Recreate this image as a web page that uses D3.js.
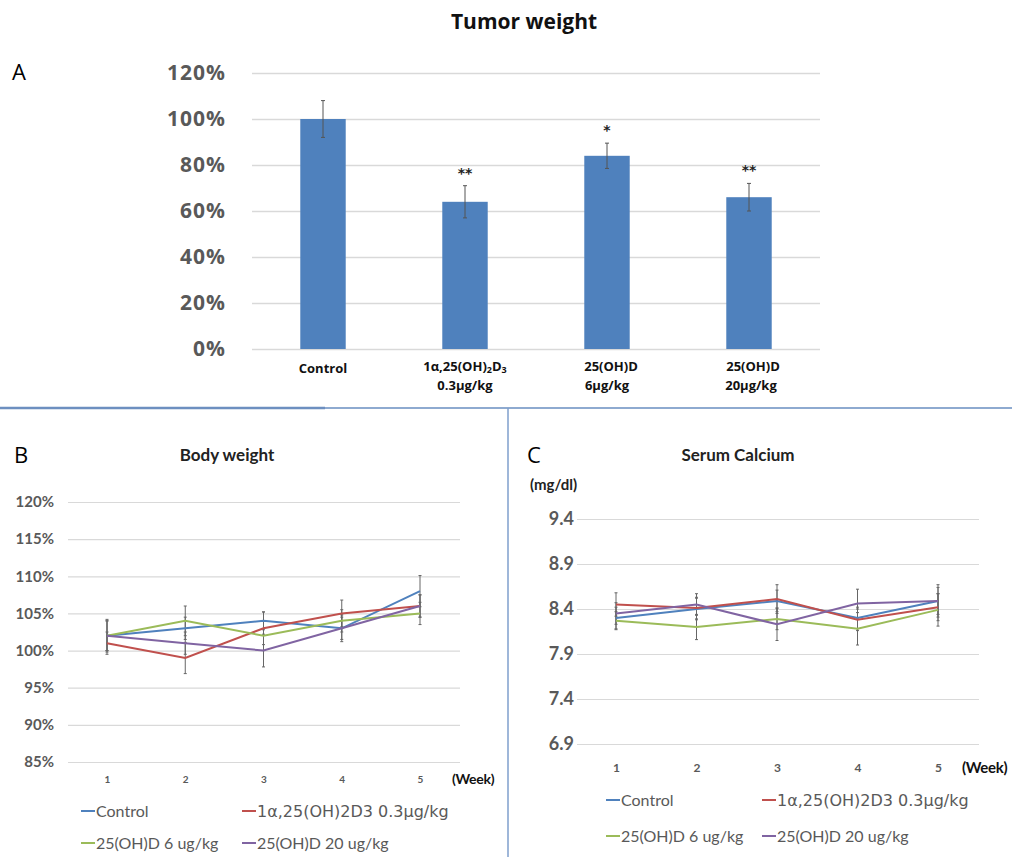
<!DOCTYPE html>
<html>
<head>
<meta charset="utf-8">
<script src="https://cdn.jsdelivr.net/npm/d3@7"></script>
<style>
  html, body { margin: 0; padding: 0; background: #fff; }
  svg { display: block; }
</style>
</head>
<body>
<svg id="chart" width="1012" height="857"></svg>
<script>
// ---------- DATA ----------
const tumorCategories = ["Control", "1α,25(OH)2D3 0.3μg/kg", "25(OH)D 6μg/kg", "25(OH)D 20μg/kg"];
const tumorValues = [1.00, 0.64, 0.84, 0.66];
const tumorErrors = [0.08, 0.07, 0.055, 0.06];
const tumorStars = ["", "**", "*", "**"];
const tumorTicks = [0, 0.2, 0.4, 0.6, 0.8, 1.0, 1.2];

const weeks = [1, 2, 3, 4, 5];
const seriesNames = ["Control", "1α,25(OH)2D3 0.3μg/kg", "25(OH)D 6 ug/kg", "25(OH)D 20 ug/kg"];
const seriesColors = ["#4F81BD", "#C0504D", "#9BBB59", "#8064A2"];

const bodyControl = [102, 103, 104, 103, 108];
const bodyCalcitriol = [101, 99, 103, 105, 106];
const body25D6 = [102, 104, 102, 104, 105];
const body25D20 = [102, 101, 100, 103, 106];
const bodyErrControl = [2.0, 1.5, 1.2, 1.5, 2.1];
const bodyErrCalcitriol = [1.5, 2.1, 2.2, 1.8, 1.5];
const body25D6Err = [2.0, 2.0, 2.0, 1.5, 1.5];
const body25D20Err = [2.2, 1.5, 2.2, 1.8, 1.5];
const bodyTicks = [85, 90, 95, 100, 105, 110, 115, 120];

const caControl = [8.30, 8.40, 8.49, 8.30, 8.49];
const caCalcitriol = [8.45, 8.41, 8.51, 8.28, 8.42];
const ca25D6 = [8.27, 8.20, 8.29, 8.18, 8.39];
const ca25D20 = [8.35, 8.45, 8.23, 8.46, 8.49];
const caErrControl = [0.12, 0.12, 0.12, 0.12, 0.18];
const caErrCalcitriol = [0.13, 0.12, 0.16, 0.12, 0.15];
const caErr25D6 = [0.10, 0.14, 0.12, 0.18, 0.18];
const caErr25D20 = [0.12, 0.12, 0.18, 0.16, 0.15];
const caTicks = [6.9, 7.4, 7.9, 8.4, 8.9, 9.4];

// ---------- SETUP ----------
const svg = d3.select("#chart");
const gray = "#595959";
const gridColor = "#d9d9d9";

// ---------- PANEL A ----------
const A = svg.append("g");
A.append("text").attr("x", 524).attr("y", 29).attr("text-anchor", "middle")
  .attr("font-family", "Open Sans").attr("font-weight", 700).attr("font-size", 21)
  .attr("fill", "#111").text("Tumor weight");
A.append("text").attr("x", 12).attr("y", 80)
  .attr("font-family", "Open Sans").attr("font-size", 22).attr("fill", "#000").text("A");

const xA = d3.scaleBand().domain(tumorCategories).range([252, 820]).paddingInner(0.68).paddingOuter(0.34);
const yA = d3.scaleLinear().domain([0, 1.2]).range([349, 73]);

const gridA = A.append("g").attr("transform", "translate(252,0)")
  .call(d3.axisLeft(yA).tickValues(tumorTicks).tickSize(-568).tickFormat(""));
gridA.select(".domain").remove();
gridA.selectAll(".tick line").attr("stroke", gridColor).attr("stroke-width", 1.5);

const axA = A.append("g").attr("transform", "translate(226,0)")
  .call(d3.axisLeft(yA).tickValues(tumorTicks).tickSize(0).tickPadding(0).tickFormat(d3.format(".0%")));
axA.select(".domain").remove();
axA.selectAll("text").attr("font-family", "Open Sans").attr("font-weight", 700)
  .attr("font-size", 21).attr("letter-spacing", 1).attr("fill", gray);

A.selectAll("rect.bar").data(tumorCategories).join("rect").attr("class", "bar")
  .attr("x", d => xA(d)).attr("width", xA.bandwidth())
  .attr("y", (d, i) => yA(tumorValues[i])).attr("height", (d, i) => yA(0) - yA(tumorValues[i]))
  .attr("fill", "#4F81BD");

const errA = A.selectAll("g.err").data(tumorCategories).join("g").attr("class", "err")
  .attr("stroke", "#555").attr("stroke-width", 1);
errA.append("line").attr("x1", d => xA(d) + xA.bandwidth() / 2).attr("x2", d => xA(d) + xA.bandwidth() / 2)
  .attr("y1", (d, i) => yA(tumorValues[i] + tumorErrors[i])).attr("y2", (d, i) => yA(tumorValues[i] - tumorErrors[i]));
errA.append("line").attr("x1", d => xA(d) + xA.bandwidth() / 2 - 2).attr("x2", d => xA(d) + xA.bandwidth() / 2 + 2)
  .attr("y1", (d, i) => yA(tumorValues[i] + tumorErrors[i])).attr("y2", (d, i) => yA(tumorValues[i] + tumorErrors[i]));
errA.append("line").attr("x1", d => xA(d) + xA.bandwidth() / 2 - 2).attr("x2", d => xA(d) + xA.bandwidth() / 2 + 2)
  .attr("y1", (d, i) => yA(tumorValues[i] - tumorErrors[i])).attr("y2", (d, i) => yA(tumorValues[i] - tumorErrors[i]));

A.selectAll("text.star").data(tumorCategories).join("text").attr("class", "star")
  .attr("x", d => xA(d) + xA.bandwidth() / 2).attr("y", (d, i) => yA(tumorValues[i] + tumorErrors[i]) - 8)
  .attr("text-anchor", "middle").attr("font-family", "DejaVu Sans").attr("font-weight", 700)
  .attr("font-size", 14).attr("fill", "#222").text((d, i) => tumorStars[i]);

// x labels
const labA = A.append("g").attr("font-family", "Open Sans").attr("font-weight", 700)
  .attr("font-size", 13).attr("fill", "#111");
function cx(i) { return xA(tumorCategories[i]) + xA.bandwidth() / 2; }
labA.append("text").attr("x", cx(0)).attr("y", 373).attr("text-anchor", "middle").text("Control");
const l1 = labA.append("text").attr("x", cx(1)).attr("y", 371).attr("text-anchor", "middle");
l1.append("tspan").text("1α,25(OH)");
l1.append("tspan").attr("font-size", 9).attr("dy", 2).text("2");
l1.append("tspan").attr("dy", -2).text("D");
l1.append("tspan").attr("font-size", 9).attr("dy", 2).text("3");
labA.append("text").attr("x", cx(1)).attr("y", 390).attr("text-anchor", "middle").text("0.3μg/kg");
labA.append("text").attr("x", cx(2) + 4).attr("y", 371).attr("text-anchor", "middle").text("25(OH)D");
labA.append("text").attr("x", cx(2)).attr("y", 390).attr("text-anchor", "middle").text("6μg/kg");
labA.append("text").attr("x", cx(3) + 4).attr("y", 371).attr("text-anchor", "middle").text("25(OH)D");
labA.append("text").attr("x", cx(3) + 2).attr("y", 390).attr("text-anchor", "middle").text("20μg/kg");

// dividers
svg.append("line").attr("x1", 0).attr("x2", 1012).attr("y1", 408).attr("y2", 408)
  .attr("stroke", "#8eaad0").attr("stroke-width", 2);
svg.append("line").attr("x1", 0).attr("x2", 325).attr("y1", 408).attr("y2", 408)
  .attr("stroke", "#6d8fc0").attr("stroke-width", 2.5);
svg.append("line").attr("x1", 508).attr("x2", 508).attr("y1", 408).attr("y2", 857)
  .attr("stroke", "#7f9fcc").attr("stroke-width", 1.5);

// ---------- line panel helper ----------
function linePanel(opts) {
  const g = svg.append("g");
  g.append("text").attr("x", opts.letterX).attr("y", 463)
    .attr("font-family", "Open Sans").attr("font-size", 22).attr("fill", "#000").text(opts.letter);
  g.append("text").attr("x", opts.titleX).attr("y", 461).attr("text-anchor", "middle")
    .attr("font-family", "Lato").attr("font-weight", 700).attr("font-size", 17)
    .attr("fill", "#222").text(opts.title);

  const x = d3.scalePoint().domain(weeks).range(opts.xRange);
  const y = d3.scaleLinear().domain(opts.yDomain).range(opts.yRange);

  const grid = g.append("g").attr("transform", `translate(${opts.gridX[0]},0)`)
    .call(d3.axisLeft(y).tickValues(opts.ticks).tickSize(-(opts.gridX[1] - opts.gridX[0])).tickFormat(""));
  grid.select(".domain").remove();
  grid.selectAll(".tick line").attr("stroke", gridColor).attr("stroke-width", 1.2);

  const ay = g.append("g").attr("transform", `translate(${opts.yLabelX},0)`)
    .call(d3.axisLeft(y).tickValues(opts.ticks).tickSize(0).tickPadding(0).tickFormat(opts.fmt));
  ay.select(".domain").remove();
  ay.selectAll("text").attr("font-family", "Lato").attr("font-weight", 700)
    .attr("font-size", opts.yFont).attr("fill", gray);

  const ax = g.append("g").attr("transform", `translate(0,${opts.xLabelY})`)
    .call(d3.axisBottom(x).tickSize(0).tickPadding(0));
  ax.select(".domain").remove();
  ax.selectAll("text").attr("font-family", "Lato").attr("font-weight", 700)
    .attr("font-size", opts.xFont).attr("fill", gray).attr("dy", "0.35em");
  g.append("text").attr("x", opts.weekX).attr("y", opts.xLabelY).attr("dy", "0.35em")
    .attr("font-family", "Lato").attr("font-weight", 700).attr("font-size", opts.weekFont)
    .attr("letter-spacing", -0.3).attr("fill", "#111").text("(Week)");

  // error bars
  opts.series.forEach((vals, s) => {
    const errs = opts.errors[s];
    const eg = g.append("g").attr("stroke", "#666").attr("stroke-width", 1);
    weeks.forEach((w, i) => {
      const xx = x(w);
      eg.append("line").attr("x1", xx).attr("x2", xx)
        .attr("y1", y(vals[i] + errs[i])).attr("y2", y(vals[i] - errs[i]));
      [vals[i] + errs[i], vals[i] - errs[i]].forEach(v => {
        eg.append("line").attr("x1", xx - 1.5).attr("x2", xx + 1.5).attr("y1", y(v)).attr("y2", y(v));
      });
    });
  });
  const line = d3.line().x((d, i) => x(weeks[i])).y(d => y(d));
  opts.series.forEach((vals, s) => {
    g.append("path").datum(vals).attr("d", line).attr("fill", "none")
      .attr("stroke", seriesColors[s]).attr("stroke-width", 2);
  });

  // legend
  const leg = g.selectAll("g.leg").data(seriesNames).join("g").attr("class", "leg")
    .attr("transform", (d, i) => `translate(${opts.legX[i % 2]},${opts.legY[Math.floor(i / 2)]})`);
  leg.append("line").attr("x1", 0).attr("x2", 14).attr("y1", 0).attr("y2", 0)
    .attr("stroke", (d, i) => seriesColors[i]).attr("stroke-width", 2);
  leg.append("text").attr("x", 15).attr("dy", "0.35em")
    .attr("font-family", (d, i) => i === 1 ? "DejaVu Sans" : "Lato")
    .attr("font-size", (d, i) => i === 1 ? 16 : 16)
    .attr("fill", gray).text(d => d);
  return g;
}

linePanel({
  letter: "B", letterX: 14, title: "Body weight", titleX: 227,
  xRange: [107, 420], yDomain: [85, 120], yRange: [762, 502], ticks: bodyTicks,
  gridX: [68, 460], yLabelX: 54, fmt: d => d + "%", yFont: 15,
  xLabelY: 779, xFont: 10, weekX: 452, weekFont: 14,
  series: [bodyControl, bodyCalcitriol, body25D6, body25D20],
  errors: [bodyErrControl, bodyErrCalcitriol, body25D6Err, body25D20Err],
  legX: [81, 242], legY: [811, 843]
});

const cPanel = linePanel({
  letter: "C", letterX: 527, title: "Serum Calcium", titleX: 738,
  xRange: [616, 938], yDomain: [6.9, 9.4], yRange: [744, 519], ticks: caTicks,
  gridX: [577, 979], yLabelX: 574, fmt: d3.format(".1f"), yFont: 18,
  xLabelY: 768, xFont: 12, weekX: 962, weekFont: 15,
  series: [caControl, caCalcitriol, ca25D6, ca25D20],
  errors: [caErrControl, caErrCalcitriol, caErr25D6, caErr25D20],
  legX: [606, 762], legY: [800, 836]
});
cPanel.append("text").attr("x", 530).attr("y", 490)
  .attr("font-family", "Lato").attr("font-weight", 700).attr("font-size", 15)
  .attr("fill", "#222").text("(mg/dl)");
</script>
</body>
</html>
